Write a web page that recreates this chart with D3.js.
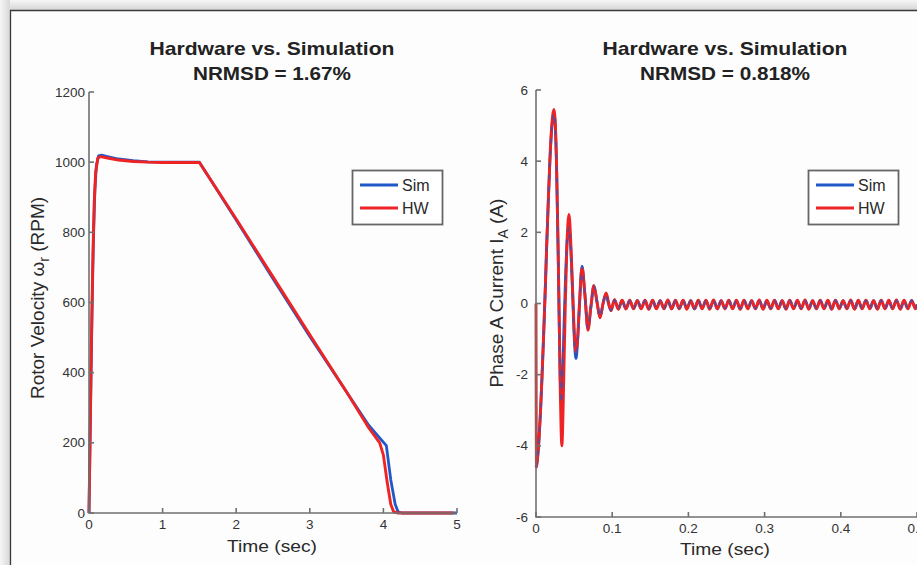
<!DOCTYPE html>
<html>
<head>
<meta charset="utf-8">
<script src="https://cdn.jsdelivr.net/npm/d3@7"></script>
<style>
    body { margin: 0; background: #fff; }
    svg { display: block; font-family: "Liberation Sans", Arial, sans-serif; }
    .axis-line { stroke: #707070; stroke-width: 1.6; fill: none; }
    .tick-label { font-size: 13.5px; fill: #333; }
    .axis-title { font-size: 17px; fill: #2a2a2a; }
    .chart-title { font-size: 18.5px; font-weight: bold; fill: #222; }
    .legend-text { font-size: 16px; fill: #2a2a2a; }
</style>
</head>
<body>
<div id="chart"></div>
<script>
// ---- data ----
// left panel: rotor velocity (RPM) vs time (s)
const velSimT = [0, 0.02, 0.04, 0.06, 0.08, 0.1, 0.13, 0.17, 0.25, 0.4, 0.6, 0.8, 1.0, 1.5, 2.0, 2.5, 3.0, 3.5, 3.8, 4.04, 4.1, 4.16, 4.2, 4.25, 5.0];
const velSimV = [0, 280, 560, 780, 920, 990, 1018, 1020, 1016, 1009, 1004, 1001, 1000, 1000, 835, 668, 503, 345, 250, 192, 95, 25, 3, 0, 0];
const velHwT = [0, 0.01, 0.03, 0.05, 0.07, 0.09, 0.12, 0.16, 0.25, 0.4, 0.6, 0.8, 1.0, 1.5, 2.0, 2.5, 3.0, 3.5, 3.8, 3.95, 4.0, 4.05, 4.1, 4.14, 4.2, 4.95];
const velHwV = [0, 150, 450, 700, 880, 970, 1012, 1016, 1012, 1006, 1002, 1000, 999, 999, 838, 673, 508, 345, 243, 200, 165, 90, 25, 3, 0, 0];
const velYTicks = [0, 200, 400, 600, 800, 1000, 1200];
const velXTicks = [0, 1, 2, 3, 4, 5];

// right panel: phase A current (A) vs time (ms), start-up transient
const curSimT = [0, 2, 4, 6, 8, 10, 12, 14, 16, 18, 20, 22, 23.6, 25, 27, 29, 30.5, 32, 33, 34.5, 36.5, 39, 41, 43.3, 45.5, 48, 50.5, 52.5, 54.5, 57, 60.4, 64, 68.2, 72, 76, 80, 84, 88, 92, 95, 98.4];
const curSimV = [-4.6, -4.35, -3.8, -3.0, -2.0, -0.9, 0.3, 1.6, 2.8, 3.9, 4.7, 5.2, 5.35, 5.1, 3.8, 1.5, -0.6, -2.4, -2.8, -2.3, -0.8, 0.9, 1.8, 2.15, 1.6, 0.3, -1.1, -1.55, -1.1, -0.1, 1.05, 0.3, -0.7, -0.1, 0.5, 0.05, -0.38, 0, 0.28, 0, -0.2];
const curHwT = [0, 0.6, 2, 4, 6, 8, 10, 12, 14, 16, 18, 20, 22, 23.6, 25, 27, 29, 30.5, 32, 33, 34, 35, 36.5, 38.5, 40.5, 43.3, 45.5, 48, 50.5, 52.5, 54.5, 57, 60.4, 64, 68.2, 72, 76, 80, 84, 88, 92, 95, 98.4];
const curHwV = [0, -4.6, -4.35, -3.8, -3.0, -2.0, -0.9, 0.3, 1.6, 2.8, 3.9, 4.8, 5.3, 5.45, 5.2, 3.9, 1.6, -0.5, -2.6, -3.6, -4.0, -3.5, -2.0, 0.0, 1.6, 2.5, 1.8, 0.4, -0.9, -1.35, -1.0, 0, 1.0, 0.3, -0.75, -0.1, 0.5, 0.05, -0.4, 0, 0.3, 0.05, -0.2];

// steady-state ripple after the transient (ms), crest / trough alternating
const rippleT = [
    103, 108, 113, 118, 123, 128, 133, 138, 143, 148,
    153, 158, 163, 168, 173, 178, 183, 188, 193, 198,
    203, 208, 213, 218, 223, 228, 233, 238, 243, 248,
    253, 258, 263, 268, 273, 278, 283, 288, 293, 298,
    303, 308, 313, 318, 323, 328, 333, 338, 343, 348,
    353, 358, 363, 368, 373, 378, 383, 388, 393, 398,
    403, 408, 413, 418, 423, 428, 433, 438, 443, 448,
    453, 458, 463, 468, 473, 478, 483, 488, 493, 498, 500
];
const rippleSim = [
    0.1, -0.15, 0.09, -0.15, 0.08, -0.14, 0.09, -0.14, 0.08, -0.15,
    0.09, -0.14, 0.08, -0.14, 0.09, -0.15, 0.08, -0.14, 0.09, -0.14,
    0.08, -0.15, 0.09, -0.14, 0.08, -0.14, 0.09, -0.15, 0.08, -0.14,
    0.09, -0.14, 0.08, -0.15, 0.09, -0.14, 0.08, -0.14, 0.09, -0.15,
    0.08, -0.14, 0.09, -0.14, 0.08, -0.15, 0.09, -0.14, 0.08, -0.14,
    0.09, -0.15, 0.08, -0.14, 0.09, -0.14, 0.08, -0.15, 0.09, -0.14,
    0.08, -0.14, 0.09, -0.15, 0.08, -0.14, 0.09, -0.14, 0.08, -0.15,
    0.09, -0.14, 0.08, -0.14, 0.09, -0.15, 0.08, -0.14, 0.09, -0.14, -0.03
];
const rippleHw = [
    0.11, -0.16, 0.09, -0.15, 0.09, -0.15, 0.08, -0.15, 0.09, -0.16,
    0.09, -0.15, 0.08, -0.15, 0.1, -0.15, 0.09, -0.15, 0.09, -0.16,
    0.08, -0.15, 0.09, -0.15, 0.09, -0.16, 0.1, -0.15, 0.08, -0.15,
    0.09, -0.15, 0.09, -0.16, 0.09, -0.15, 0.08, -0.15, 0.1, -0.16,
    0.09, -0.15, 0.09, -0.15, 0.08, -0.16, 0.09, -0.15, 0.09, -0.15,
    0.1, -0.16, 0.08, -0.15, 0.09, -0.15, 0.09, -0.16, 0.09, -0.15,
    0.08, -0.15, 0.1, -0.16, 0.09, -0.15, 0.09, -0.15, 0.08, -0.16,
    0.09, -0.15, 0.09, -0.15, 0.1, -0.16, 0.09, -0.15, 0.08, -0.15, -0.03
];
const curYTicks = [-6, -4, -2, 0, 2, 4, 6];
const curXTicks = [0, 0.1, 0.2, 0.3, 0.4, 0.5];

const seriesNames = ["Sim", "HW"];
const seriesColors = ["#2158c8", "#ee2424"];

const width = 917;
const height = 565;

function zipPoints(ts, vs, tScale) {
    return ts.map(function(t, i) {
        return { t: t * tScale, v: vs[i] };
    });
}

const svg = d3.select("#chart")
    .append("svg")
    .attr("width", width)
    .attr("height", height);

// ---- page frame (the screenshot border) ----
const defs = svg.append("defs");
const gTop = defs.append("linearGradient").attr("id", "fadeTop")
    .attr("x1", 0).attr("y1", 0).attr("x2", 0).attr("y2", 1);
gTop.append("stop").attr("offset", "0%").attr("stop-color", "#f6f6f6");
gTop.append("stop").attr("offset", "100%").attr("stop-color", "#d6d6d6");
const gLeft = defs.append("linearGradient").attr("id", "fadeLeft")
    .attr("x1", 0).attr("y1", 0).attr("x2", 1).attr("y2", 0);
gLeft.append("stop").attr("offset", "0%").attr("stop-color", "#f6f6f6");
gLeft.append("stop").attr("offset", "100%").attr("stop-color", "#d8d8d8");

svg.append("rect").attr("width", width).attr("height", height).attr("fill", "#fdfdfd");
svg.append("rect").attr("x", 0).attr("y", 0).attr("width", width).attr("height", 10).attr("fill", "url(#fadeTop)");
svg.append("rect").attr("x", 0).attr("y", 0).attr("width", 10).attr("height", height).attr("fill", "url(#fadeLeft)");
svg.append("path")
    .attr("d", "M10.5," + height + "V10.5H" + width)
    .attr("stroke", "#3a3a3a")
    .attr("stroke-width", 1.3)
    .attr("fill", "none");

// ---- one MATLAB style panel ----
function drawPanel(cfg) {
    const x = d3.scaleLinear().domain(cfg.xDomain).range(cfg.xRange);
    const y = d3.scaleLinear().domain(cfg.yDomain).range(cfg.yRange);
    const g = svg.append("g");

    const line = d3.line()
        .x(function(d) { return x(d.t); })
        .y(function(d) { return y(d.v); })
        .curve(cfg.curve);

    // Sim first, HW drawn over it
    g.append("path")
        .datum(cfg.sim)
        .attr("fill", "none")
        .attr("stroke", seriesColors[0])
        .attr("stroke-width", 2.8)
        .attr("stroke-linejoin", "round")
        .attr("d", line);

    g.append("path")
        .datum(cfg.hw)
        .attr("fill", "none")
        .attr("stroke", seriesColors[1])
        .attr("stroke-width", 2.9)
        .attr("stroke-linejoin", "round")
        .attr("d", line);

    if (cfg.simDashes) {
        g.append("path")
            .datum(cfg.sim)
            .attr("fill", "none")
            .attr("stroke", seriesColors[0])
            .attr("stroke-width", 1.6)
            .attr("stroke-dasharray", "5,7")
            .attr("opacity", 0.7)
            .attr("d", line);
    }

    // axes (box off, inward ticks)
    const x0 = cfg.xRange[0];
    const y0 = cfg.yRange[0];
    g.append("path")
        .attr("class", "axis-line")
        .attr("d", "M" + x0 + "," + cfg.yRange[1] + "V" + y0 + "H" + cfg.xAxisEnd);

    cfg.xTicks.forEach(function(t) {
        g.append("line")
            .attr("class", "axis-line")
            .attr("x1", x(t)).attr("x2", x(t))
            .attr("y1", y0).attr("y2", y0 - 5);
        g.append("text")
            .attr("class", "tick-label")
            .attr("x", x(t))
            .attr("y", y0 + 16)
            .attr("text-anchor", "middle")
            .text(cfg.xFormat(t));
    });

    cfg.yTicks.forEach(function(v) {
        g.append("line")
            .attr("class", "axis-line")
            .attr("x1", x0).attr("x2", x0 + 5)
            .attr("y1", y(v)).attr("y2", y(v));
        g.append("text")
            .attr("class", "tick-label")
            .attr("x", x0 - cfg.yLabelGap)
            .attr("y", y(v) + 4.5)
            .attr("text-anchor", "end")
            .text(v);
    });

    // titles
    g.append("text")
        .attr("class", "chart-title")
        .attr("x", cfg.titleX).attr("y", 55)
        .attr("text-anchor", "middle")
        .attr("textLength", 245).attr("lengthAdjust", "spacingAndGlyphs")
        .text("Hardware vs. Simulation");
    g.append("text")
        .attr("class", "chart-title")
        .attr("x", cfg.titleX).attr("y", 80)
        .attr("text-anchor", "middle")
        .attr("textLength", cfg.subtitleLength).attr("lengthAdjust", "spacingAndGlyphs")
        .text(cfg.subtitle);

    g.append("text")
        .attr("class", "axis-title")
        .attr("x", cfg.titleX).attr("y", cfg.xTitleY)
        .attr("text-anchor", "middle")
        .attr("textLength", 90).attr("lengthAdjust", "spacingAndGlyphs")
        .text("Time (sec)");

    const yTitle = g.append("text")
        .attr("class", "axis-title")
        .style("font-size", "19px")
        .attr("transform", "translate(" + cfg.yTitleX + "," + cfg.yTitleY + ") rotate(-90)")
        .attr("text-anchor", "middle");
    yTitle.append("tspan").text(cfg.yTitleMain);
    yTitle.append("tspan").style("font-size", "14px").attr("dy", 5).text(cfg.yTitleSub);
    yTitle.append("tspan").attr("dy", -5).text(cfg.yTitleEnd);

    // legend
    const lg = g.append("g").attr("transform", "translate(" + cfg.legendX + ",170)");
    lg.append("rect")
        .attr("x", 0.5).attr("y", 0.5)
        .attr("width", 90).attr("height", 54)
        .attr("fill", "#fff")
        .attr("stroke", "#666")
        .attr("stroke-width", 1.8);
    seriesNames.forEach(function(name, i) {
        const ly = 15 + i * 23;
        lg.append("line")
            .attr("x1", 8).attr("x2", 46)
            .attr("y1", ly).attr("y2", ly)
            .attr("stroke", seriesColors[i])
            .attr("stroke-width", 2.8);
        lg.append("text")
            .attr("class", "legend-text")
            .attr("x", 50).attr("y", ly + 6)
            .text(name);
    });
}

drawPanel({
    sim: zipPoints(velSimT, velSimV, 1),
    hw: zipPoints(velHwT, velHwV, 1),
    curve: d3.curveLinear,
    xDomain: [0, 5], xRange: [89, 457], xAxisEnd: 457,
    yDomain: [0, 1200], yRange: [513, 92],
    xTicks: velXTicks, yTicks: velYTicks,
    xFormat: function(t) { return t; },
    yLabelGap: 4,
    titleX: 272, subtitle: "NRMSD = 1.67%", subtitleLength: 158,
    xTitleY: 552,
    yTitleX: 44, yTitleY: 298,
    yTitleMain: "Rotor Velocity  \u03C9", yTitleSub: "r", yTitleEnd: " (RPM)",
    legendX: 352,
    simDashes: false
});

drawPanel({
    sim: zipPoints(curSimT, curSimV, 0.001).concat(zipPoints(rippleT, rippleSim, 0.001)),
    hw: zipPoints(curHwT, curHwV, 0.001).concat(zipPoints(rippleT, rippleHw, 0.001)),
    curve: d3.curveMonotoneX,
    xDomain: [0, 0.5], xRange: [536, 917], xAxisEnd: 920,
    yDomain: [-6, 6], yRange: [517, 90],
    xTicks: curXTicks, yTicks: curYTicks,
    xFormat: function(t) { return t; },
    yLabelGap: 8,
    titleX: 725, subtitle: "NRMSD = 0.818%", subtitleLength: 170,
    xTitleY: 555,
    yTitleX: 503, yTitleY: 293,
    yTitleMain: "Phase A Current  I", yTitleSub: "A", yTitleEnd: " (A)",
    legendX: 808,
    simDashes: true
});
</script>
</body>
</html>
